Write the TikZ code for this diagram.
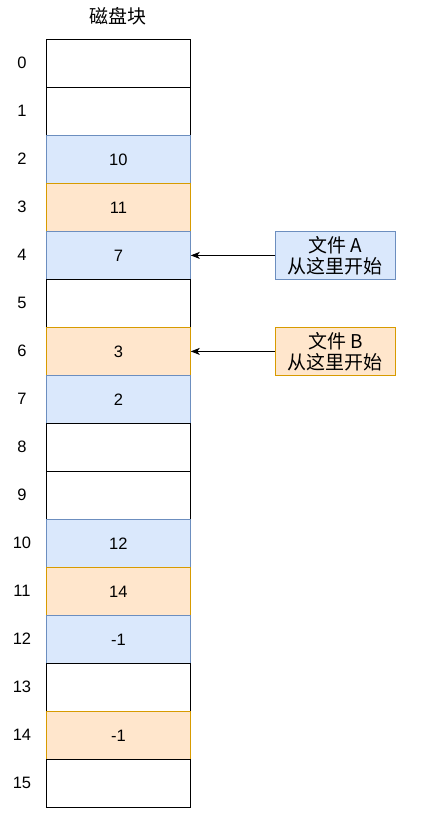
\documentclass[tikz,border=0pt]{standalone}
\usepackage{fontspec}
\setmainfont{Liberation Sans}
\newfontfamily\cjk[Scale=1.15]{Noto Sans CJK SC}
\usetikzlibrary{arrows.meta}
\definecolor{bluefill}{HTML}{DAE8FC}
\definecolor{bluestroke}{HTML}{6C8EBF}
\definecolor{orfill}{HTML}{FFE6CC}
\definecolor{orstroke}{HTML}{D79B00}
\tikzset{
  blk/.style={draw=black, fill=white, minimum width=144pt, minimum height=48pt, inner sep=0pt, anchor=north west, font=\fontsize{16.5}{20}\selectfont, line width=0.8pt},
  bblk/.style={blk, draw=bluestroke, fill=bluefill},
  oblk/.style={blk, draw=orstroke, fill=orfill},
  idx/.style={font=\fontsize{16.5}{20}\selectfont, anchor=center},
  note/.style={minimum width=120pt, minimum height=48pt, inner sep=0pt, anchor=north west, align=center, font=\fontsize{16.5}{21}\selectfont\cjk, line width=0.8pt},
  arr/.style={-{Stealth[length=9pt,width=7pt,inset=2.5pt]}, line width=0.8pt}
}
\begin{document}
\begin{tikzpicture}[x=1pt,y=-1pt]
\useasboundingbox (0,0) rectangle (421,813);
\node[font=\fontsize{16.5}{20}\selectfont\cjk] (title) at (118,16) {磁盘块};
\node[blk]  (b0)  at (46,39) {};
\node[blk]  (b1)  at (46,87) {};
\node[bblk] (b2)  at (46,135) {10};
\node[oblk] (b3)  at (46,183) {11};
\node[bblk] (b4)  at (46,231) {7};
\node[blk]  (b5)  at (46,279) {};
\node[oblk] (b6)  at (46,327) {3};
\node[bblk] (b7)  at (46,375) {2};
\node[blk]  (b8)  at (46,423) {};
\node[blk]  (b9)  at (46,471) {};
\node[bblk] (b10) at (46,519) {12};
\node[oblk] (b11) at (46,567) {14};
\node[bblk] (b12) at (46,615) {-1};
\node[blk]  (b13) at (46,663) {};
\node[oblk] (b14) at (46,711) {-1};
\node[blk]  (b15) at (46,759) {};
\foreach \i in {0,...,15} {
  \node[idx] (l\i) at (22,{63+48*\i}) {\i};
}
\node[note, draw=bluestroke, fill=bluefill] (na) at (275,231) {文件 A\\从这里开始};
\node[note, draw=orstroke, fill=orfill] (nb) at (275,327) {文件 B\\从这里开始};
\draw[arr] (na.west) -- (b4.east);
\draw[arr] (nb.west) -- (b6.east);
\end{tikzpicture}
\end{document}
